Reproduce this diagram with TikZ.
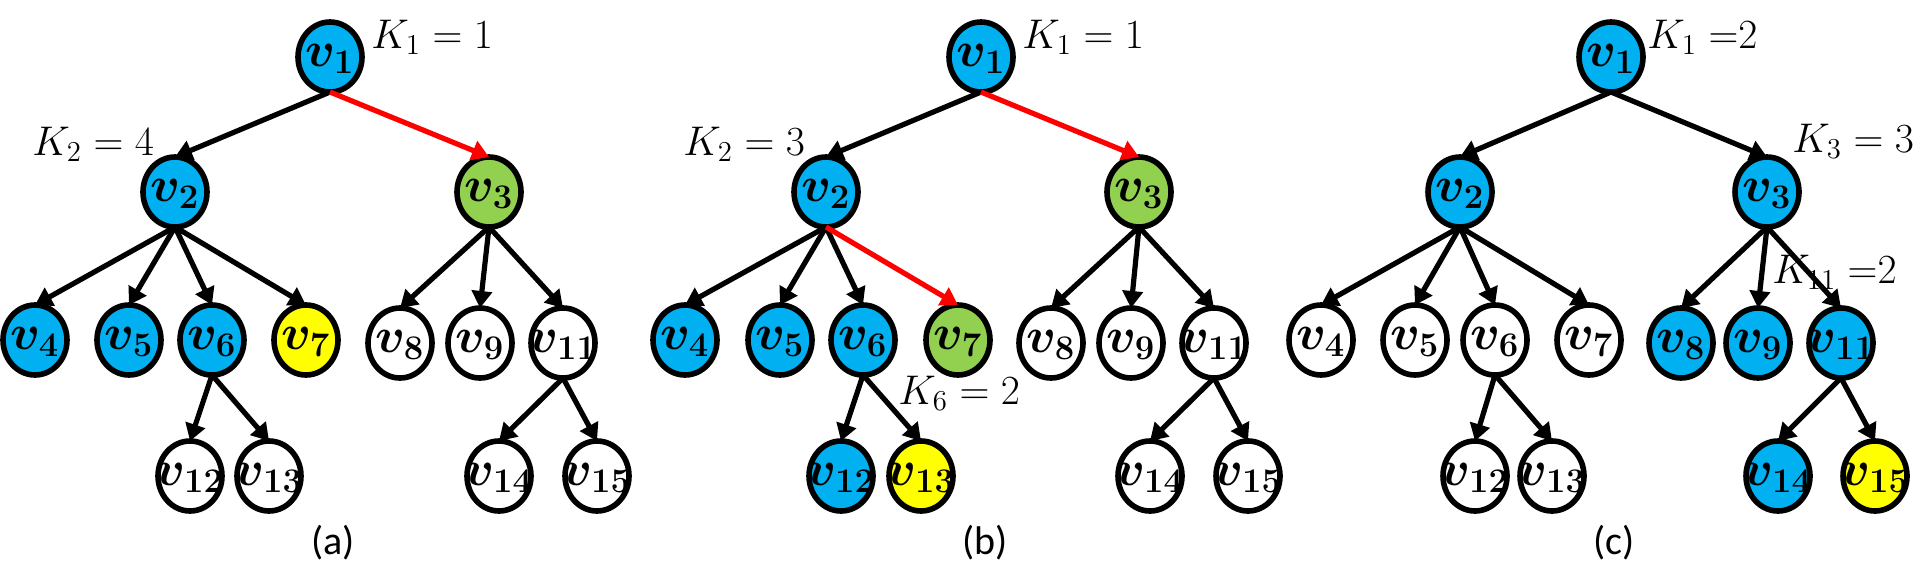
\documentclass[tikz,border=0pt]{standalone}
\usepackage{fontspec}
\newfontfamily\capfont{Carlito}
\usetikzlibrary{shapes.geometric,arrows.meta}
\definecolor{nblue}{RGB}{0,176,240}
\definecolor{ngreen}{RGB}{146,208,80}
\definecolor{nyellow}{RGB}{255,255,0}
\definecolor{nred}{RGB}{255,0,0}
\tikzset{
 vert/.style={ellipse, draw=black, line width=2.8pt, fill=white, minimum width=32pt, minimum height=35pt, inner sep=0pt, outer sep=0pt, font=\fontsize{23}{23}\selectfont\boldmath, text height=10pt, text depth=0.6pt},
 vb/.style={vert, fill=nblue}, vg/.style={vert, fill=ngreen}, vy/.style={vert, fill=nyellow},
 edge/.style={line width=2.6pt, draw=black, -{Triangle[length=8.5pt,width=10pt]}},
 redge/.style={edge, draw=nred},
 klab/.style={anchor=base west, inner sep=0pt, font=\fontsize{20}{20}\selectfont},
 captext/.style={font=\capfont\fontsize{20}{20}\selectfont}
}
\newcommand\vl[1]{\makebox[0pt]{$v_{#1}$}}
\begin{document}
\begin{tikzpicture}[x=0.5pt,y=-0.5pt]
\useasboundingbox (0,0) rectangle (1931,585);
% ---------- panel (a)
\node[vb] (a1) at (330,57) {\vl{1}};
\node[vb] (a2) at (175,192) {\vl{2}};
\node[vg] (a3) at (489,192) {\vl{3}};
\node[vb] (a4) at (35,340) {\vl{4}};
\node[vb] (a5) at (129,340) {\vl{5}};
\node[vb] (a6) at (212,340) {\vl{6}};
\node[vy] (a7) at (306,340) {\vl{7}};
\node[vert] (a8) at (400,343) {\vl{8}};
\node[vert] (a9) at (480,343) {\vl{9}};
\node[vert] (a11) at (563,343) {\vl{11}};
\node[vert] (a12) at (190,476) {\vl{12}};
\node[vert] (a13) at (269,476) {\vl{13}};
\node[vert] (a14) at (499,476) {\vl{14}};
\node[vert] (a15) at (597,476) {\vl{15}};
\node[klab] (ak1) at (371,48) {$K_1 = 1$};
\node[klab] (ak2) at (32,155) {$K_2 = 4$};
\node[captext] (acap) at (333,543) {(a)};
\draw[edge] (a1.south) -- (a2.north);
\draw[redge] (a1.south) -- (a3.north);
\foreach \c in {4,5,6,7} \draw[edge] (a2.south) -- (a\c.north);
\foreach \c in {8,9,11} \draw[edge] (a3.south) -- (a\c.north);
\foreach \c in {12,13} \draw[edge] (a6.south) -- (a\c.north);
\foreach \c in {14,15} \draw[edge] (a11.south) -- (a\c.north);
% ---------- panel (b)
\node[vb] (b1) at (981,57) {\vl{1}};
\node[vb] (b2) at (826,192) {\vl{2}};
\node[vg] (b3) at (1139,192) {\vl{3}};
\node[vb] (b4) at (685,340) {\vl{4}};
\node[vb] (b5) at (780,340) {\vl{5}};
\node[vb] (b6) at (863,340) {\vl{6}};
\node[vg] (b7) at (958,340) {\vl{7}};
\node[vert] (b8) at (1051,343) {\vl{8}};
\node[vert] (b9) at (1131,343) {\vl{9}};
\node[vert] (b11) at (1214,343) {\vl{11}};
\node[vb] (b12) at (841,476) {\vl{12}};
\node[vy] (b13) at (921,476) {\vl{13}};
\node[vert] (b14) at (1150,476) {\vl{14}};
\node[vert] (b15) at (1248,476) {\vl{15}};
\node[klab] (bk1) at (1022,48) {$K_1 = 1$};
\node[klab] (bk2) at (683,155) {$K_2 = 3$};
\node[klab] (bk6) at (898,404) {$K_6 = 2$};
\node[captext] (bcap) at (985,543) {(b)};
\draw[edge] (b1.south) -- (b2.north);
\draw[redge] (b1.south) -- (b3.north);
\foreach \c in {4,5,6} \draw[edge] (b2.south) -- (b\c.north);
\draw[redge] (b2.south) -- (b7.north);
\foreach \c in {8,9,11} \draw[edge] (b3.south) -- (b\c.north);
\foreach \c in {12,13} \draw[edge] (b6.south) -- (b\c.north);
\foreach \c in {14,15} \draw[edge] (b11.south) -- (b\c.north);
% ---------- panel (c)
\node[vb] (c1) at (1611,57) {\vl{1}};
\node[vb] (c2) at (1460,192) {\vl{2}};
\node[vb] (c3) at (1767,192) {\vl{3}};
\node[vert] (c4) at (1321,340) {\vl{4}};
\node[vert] (c5) at (1415,340) {\vl{5}};
\node[vert] (c6) at (1495,340) {\vl{6}};
\node[vert] (c7) at (1589,340) {\vl{7}};
\node[vb] (c8) at (1681,343) {\vl{8}};
\node[vb] (c9) at (1758,343) {\vl{9}};
\node[vb] (c11) at (1841,343) {\vl{11}};
\node[vert] (c12) at (1475,476) {\vl{12}};
\node[vert] (c13) at (1552,476) {\vl{13}};
\node[vb] (c14) at (1778,476) {\vl{14}};
\node[vy] (c15) at (1875,476) {\vl{15}};
\node[klab] (ck1) at (1647,48) {$K_1\;{=}2$};
\node[klab] (ck3) at (1792,152) {$K_3 = 3$};
\node[klab] (ck11) at (1772,283) {$K_{11}\;{=}2$};
\node[captext] (ccap) at (1614,543) {(c)};
\draw[edge] (c1.south) -- (c2.north);
\draw[edge] (c1.south) -- (c3.north);
\foreach \c in {4,5,6,7} \draw[edge] (c2.south) -- (c\c.north);
\foreach \c in {8,9,11} \draw[edge] (c3.south) -- (c\c.north);
\foreach \c in {12,13} \draw[edge] (c6.south) -- (c\c.north);
\foreach \c in {14,15} \draw[edge] (c11.south) -- (c\c.north);
\end{tikzpicture}
\end{document}
